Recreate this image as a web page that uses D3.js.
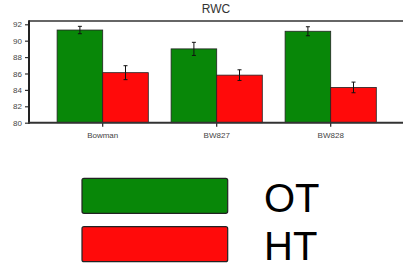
<!DOCTYPE html>
<html><head><meta charset="utf-8">
<script src="https://cdn.jsdelivr.net/npm/d3@7"></script>
<style>body{margin:0;background:#fff}svg{display:block}</style>
</head><body>
<svg id="c" width="403" height="267"></svg>
<script>
const categories = ["Bowman", "BW827", "BW828"];
const seriesNames = ["OT", "HT"];
const otValues = [91.3, 89.0, 91.15];
const htValues = [86.1, 85.8, 84.3];
const otErrors = [0.45, 0.8, 0.55];
const htErrors = [0.85, 0.65, 0.65];
const yTicks = [80, 82, 84, 86, 88, 90, 92];
const colors = ["#088708", "#ff0a0a"];

const svg = d3.select("#c");
const L = 29, R = 403, T = 21, B = 122.7;
const y = d3.scaleLinear().domain([80, 92.4]).range([B, T]);
const x = d3.scaleBand().domain(categories).range([45.7, 387.7]).paddingInner(0.2).paddingOuter(0.1);
const xs = d3.scaleBand().domain(seriesNames).range([0, x.bandwidth()]);

svg.append("text").attr("x", 216).attr("y", 13.3).attr("text-anchor", "middle")
  .attr("font-family", "Liberation Sans, Arial, sans-serif").attr("font-size", 12).attr("fill", "#333").text("RWC");

const data = categories.map((c, i) => [
  {cat: c, s: "OT", v: otValues[i], e: otErrors[i], col: colors[0]},
  {cat: c, s: "HT", v: htValues[i], e: htErrors[i], col: colors[1]}
]).flat();

svg.append("g").selectAll("rect").data(data).join("rect")
  .attr("x", d => x(d.cat) + xs(d.s))
  .attr("y", d => y(d.v))
  .attr("width", xs.bandwidth())
  .attr("height", d => y(80) - y(d.v))
  .attr("fill", d => d.col).attr("stroke", "#222").attr("stroke-width", 0.8);

const eg = svg.append("g").attr("stroke", "#111").attr("stroke-width", 1);
data.forEach(d => {
  const cx = x(d.cat) + xs(d.s) + xs.bandwidth() / 2;
  eg.append("line").attr("x1", cx).attr("x2", cx).attr("y1", y(d.v + d.e)).attr("y2", y(d.v - d.e));
  eg.append("line").attr("x1", cx - 2).attr("x2", cx + 2).attr("y1", y(d.v + d.e)).attr("y2", y(d.v + d.e));
  eg.append("line").attr("x1", cx - 2).attr("x2", cx + 2).attr("y1", y(d.v - d.e)).attr("y2", y(d.v - d.e));
});

// frame top
svg.append("line").attr("x1", L).attr("x2", R).attr("y1", T).attr("y2", T).attr("stroke", "#333").attr("stroke-width", 1.6);

const yAxis = d3.axisLeft(y).tickValues(yTicks).tickSize(4).tickPadding(3);
const ya = svg.append("g").attr("transform", `translate(${L},0)`).call(yAxis);
ya.select(".domain").remove();
ya.selectAll(".tick line").attr("stroke", "#333").attr("stroke-width", 1.2);
ya.selectAll("text").attr("font-family", "Liberation Sans, Arial, sans-serif").attr("font-size", 8).attr("fill", "#444");
svg.append("line").attr("x1", L).attr("x2", L).attr("y1", T - 0.8).attr("y2", B + 1).attr("stroke", "#222").attr("stroke-width", 2);

const xAxis = d3.axisBottom(x).tickSize(4).tickPadding(6);
const xa = svg.append("g").attr("transform", `translate(0,${B})`).call(xAxis);
xa.select(".domain").remove();
xa.selectAll(".tick line").attr("stroke", "#222").attr("stroke-width", 1.2);
xa.selectAll("text").attr("font-family", "Liberation Sans, Arial, sans-serif").attr("font-size", 8).attr("fill", "#444");
svg.append("line").attr("x1", L - 1).attr("x2", R).attr("y1", B).attr("y2", B).attr("stroke", "#333").attr("stroke-width", 2);

// legend
const leg = svg.append("g");
const legY = [178.3, 226.7];
seriesNames.forEach((s, i) => {
  leg.append("rect").attr("x", 82).attr("y", legY[i]).attr("width", 145.7).attr("height", 35)
    .attr("rx", 2).attr("fill", colors[i]).attr("stroke", "#222").attr("stroke-width", 1.2);
  leg.append("text").attr("x", 264).attr("y", legY[i] + 33.5)
    .attr("font-family", "Liberation Sans, Arial, sans-serif").attr("font-size", 40).attr("fill", "#000").text(s);
});
</script>
</body></html>
